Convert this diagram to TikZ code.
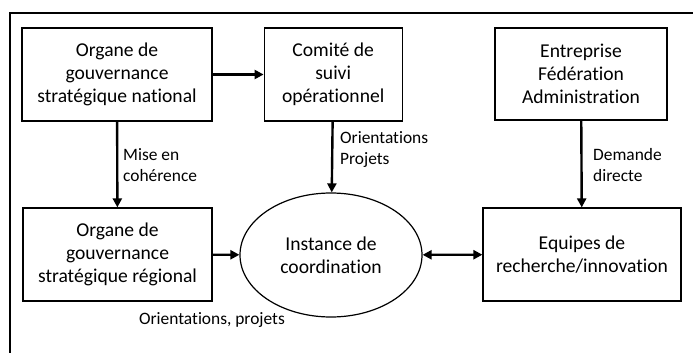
\documentclass[tikz,border=0pt]{standalone}
\usepackage{fontspec}
\setmainfont{Carlito}[Ligatures=NoCommon]
\usepackage{tikz}
\usetikzlibrary{arrows.meta, positioning, shapes.geometric}

\tikzset{
  box/.style={draw, line width=1.2pt, align=center, font=\fontsize{19.6}{23}\selectfont},
  flow/.style={line width=2.4pt, -{Triangle[length=9pt, width=9pt]}},
  lbl/.style={align=left, anchor=west, inner sep=0pt, font=\fontsize{17.4}{21}\selectfont}
}

\begin{document}
\begin{tikzpicture}[x=1pt, y=-1pt]
  \useasboundingbox (0,0) rectangle (693,353);
  \draw[line width=1.2pt] (10,353) -- (10,13) -- (693,13);

  \node (nat_organ) [box, minimum width=190pt, minimum height=93pt] at (117,74.5) {Organe de\\ gouvernance\\ stratégique national};
  \node (comite) [box, minimum width=138pt, minimum height=93pt, right=51pt of nat_organ] {Comité de\\ suivi\\ opérationnel};
  \node (entreprise) [box, minimum width=172pt, minimum height=92pt] at (581,74) {Entreprise\\ Fédération\\ Administration};

  \node (reg_organ) [box, minimum width=189pt, minimum height=93pt] at (117.5,254.5) {Organe de\\ gouvernance\\ stratégique régional};
  \node (instance) [box, ellipse, inner sep=0pt, minimum width=182pt, minimum height=124pt] at (331,255) {Instance de\\ coordination};
  \node (equipes) [box, minimum width=198pt, minimum height=93pt] at (582,254.5) {Equipes de\\ recherche/innovation};

  \draw[flow] (nat_organ) -- (comite);
  \draw[flow] (nat_organ) -- (reg_organ);
  \draw[flow] (comite) -- (instance);
  \draw[flow] (entreprise) -- (equipes);
  \draw[flow] (reg_organ) -- (instance);
  \draw[flow, {Triangle[length=9pt, width=9pt]}-{Triangle[length=9pt, width=9pt]}] (instance) -- (equipes);

  \node (mise) [lbl] at (123,165) {Mise en\\ cohérence};
  \node (orient) [lbl] at (340,150) {Orientations\\ Projets};
  \node (demande) [lbl] at (593,165) {Demande\\ directe};
  \node (orient_proj) [lbl, anchor=center] at (212,320) {Orientations, projets};
\end{tikzpicture}
\end{document}
